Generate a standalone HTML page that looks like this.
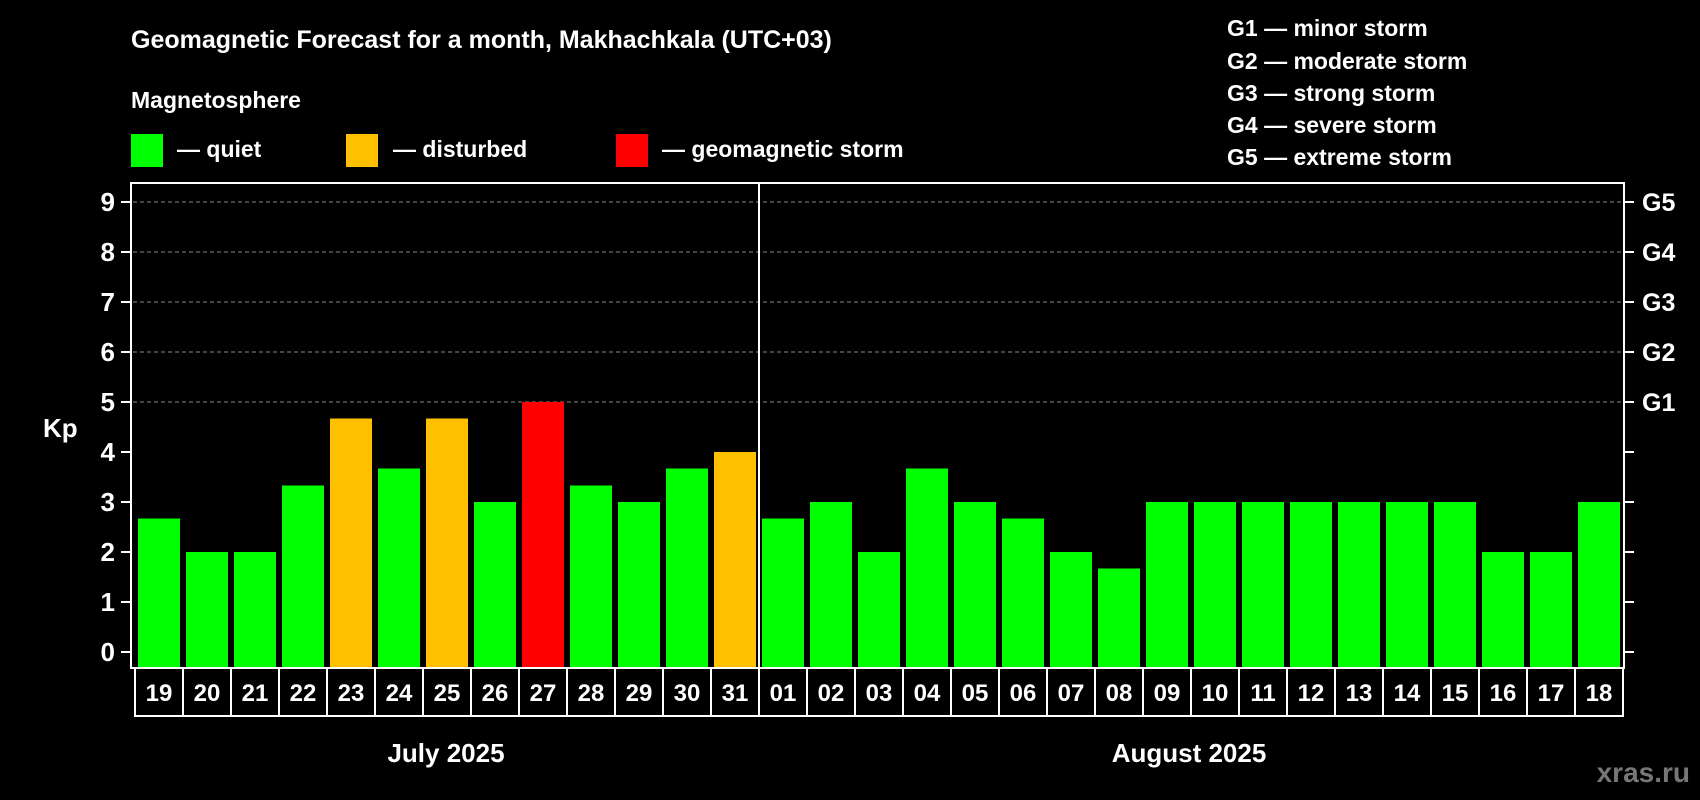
<!DOCTYPE html>
<html><head><meta charset="utf-8"><style>
html,body{margin:0;padding:0;background:#000;}
svg{display:block;font-family:"Liberation Sans",Arial,sans-serif;font-weight:bold;}
</style></head><body>
<svg id="chart" width="1700" height="800" viewBox="0 0 1700 800">
<text x="131" y="48" fill="#fff" font-size="25">Geomagnetic Forecast for a month, Makhachkala (UTC+03)</text>
<text x="131" y="108" fill="#fff" font-size="23">Magnetosphere</text>
<rect x="131" y="134" width="32" height="33" fill="#00ff00"/>
<text x="177" y="157" fill="#fff" font-size="23">— quiet</text>
<rect x="346" y="134" width="32" height="33" fill="#ffc000"/>
<text x="393" y="157" fill="#fff" font-size="23">— disturbed</text>
<rect x="616" y="134" width="32" height="33" fill="#ff0000"/>
<text x="662" y="157" fill="#fff" font-size="23">— geomagnetic storm</text>
<g fill="#fff" font-size="23">
<text x="1227" y="36">G1 — minor storm</text>
<text x="1227" y="69">G2 — moderate storm</text>
<text x="1227" y="101">G3 — strong storm</text>
<text x="1227" y="133">G4 — severe storm</text>
<text x="1227" y="165">G5 — extreme storm</text>
</g>
<text x="43" y="437" fill="#fff" font-size="26">Kp</text>
<g id="grid"></g>
<g id="bars"></g>
<g id="axes"></g>
<text x="446" y="762" fill="#fff" font-size="26" text-anchor="middle">July 2025</text>
<text x="1189" y="762" fill="#fff" font-size="26" text-anchor="middle">August 2025</text>
<text x="1690" y="782" fill="#777" font-size="28" text-anchor="end">xras.ru</text>
</svg>
<script>
const days = ["19","20","21","22","23","24","25","26","27","28","29","30","31","01","02","03","04","05","06","07","08","09","10","11","12","13","14","15","16","17","18"];
const kpValues = [2.67,2,2,3.33,4.67,3.67,4.67,3,5,3.33,3,3.67,4,2.67,3,2,3.67,3,2.67,2,1.67,3,3,3,3,3,3,3,2,2,3];
const yTicks = [0,1,2,3,4,5,6,7,8,9];
const gLabels = ["G1","G2","G3","G4","G5"];
const gLevels = [5,6,7,8,9];

const NS="http://www.w3.org/2000/svg";
const L=131,R=1624,T=183,B=668;
const y0=652, unit=50;
const x0=135, pitch=48, barW=42;
const yS=v=>y0-v*unit;
const xS=i=>x0+i*pitch;
function mk(tag,attrs,parent){const e=document.createElementNS(NS,tag);for(const k in attrs)e.setAttribute(k,attrs[k]);parent.appendChild(e);return e;}
const grid=document.getElementById('grid'),bars=document.getElementById('bars'),axes=document.getElementById('axes');

gLevels.forEach((v,i)=>{
  const l=mk('line',{x1:L+2,x2:R-2,y1:yS(v),y2:yS(v),stroke:'#888','stroke-width':1,'stroke-dasharray':'4,3'},grid);
  
  
  const t=mk('text',{x:R+18,y:yS(v)+9,fill:'#fff','font-size':25},axes);
  t.textContent=gLabels[i];
  
  
});

kpValues.forEach((v,i)=>{
  const c=v>=5?'#ff0000':(v>=4?'#ffc000':'#00ff00');
  const r=mk('rect',{x:xS(i)+3,y:yS(v),width:barW,height:B-yS(v),fill:c},bars);
  
  
  const b=mk('rect',{x:xS(i),y:B,width:pitch,height:48,fill:'#000',stroke:'#fff','stroke-width':2},axes);
  
  
  const t=mk('text',{x:xS(i)+pitch/2,y:B+33,fill:'#fff','font-size':24,'text-anchor':'middle'},axes);
  t.textContent=days[i];
  
  
});

const frame=mk('rect',{x:L,y:T,width:R-L,height:B-T,fill:'none',stroke:'#fff','stroke-width':2},axes);


const div=mk('line',{x1:759,x2:759,y1:T,y2:B,stroke:'#fff','stroke-width':2},axes);



yTicks.forEach(v=>{
  const tl=mk('line',{x1:L-10,x2:L,y1:yS(v),y2:yS(v),stroke:'#fff','stroke-width':2},axes);
  
  
  const tr=mk('line',{x1:R,x2:R+10,y1:yS(v),y2:yS(v),stroke:'#fff','stroke-width':2},axes);
  
  
  const t=mk('text',{x:115,y:yS(v)+9,fill:'#fff','font-size':26,'text-anchor':'end'},axes);
  t.textContent=v;
  
  
});
</script>
</body></html>
